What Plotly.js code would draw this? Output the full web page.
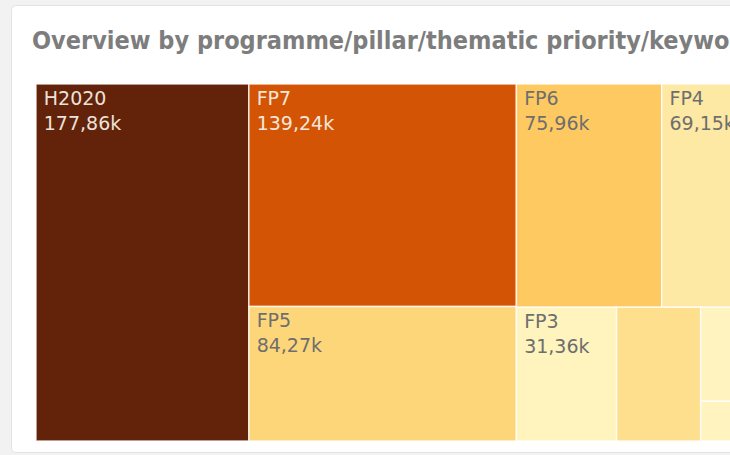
<!DOCTYPE html>
<html>
<head>
<meta charset="utf-8">
<script src="https://cdn.plot.ly/plotly-3.0.1.min.js"></script>
<style>
  html, body { margin: 0; padding: 0; width: 730px; height: 455px; overflow: hidden; background: #f2f2f2; }
  #card { position: absolute; left: 11px; top: 5px; width: 860px; height: 448px; background: #ffffff;
          border: 1px solid #e2e2e2; border-radius: 5px; box-sizing: border-box; }
  #chart { position: absolute; left: 0; top: 0; width: 830px; height: 455px; }
</style>
</head>
<body>
<div id="card"></div>
<div id="chart"></div>
<script>
// Data (values in thousands)
const programmes = ["H2020", "FP7", "FP5", "FP6", "FP4", "FP3", "HORIZON", "FP2", "FP1"];
const counts     = [177.86, 139.24, 84.27, 75.96, 69.15, 31.36, 26.3, 20.5, 8.7];
const shownLabel = [true, true, true, true, true, true, false, false, false];
const tileColors = ["#62230a", "#d35405", "#fdd67a", "#fdc960", "#fde8a4", "#fff4bd", "#fddf8e", "#fff3bf", "#fff3bf"];
const labelColors = ["#ece2d9", "#f4e7db", "#6e6e6e", "#6e6e6e", "#6e6e6e", "#6e6e6e", "#6e6e6e", "#6e6e6e", "#6e6e6e"];
const chartTitle = "Overview by programme/pillar/thematic priority/keyword";

const W = 830, H = 455;
const indent = '<span style="font-size:15px">\u00A0</span>';
const templates = shownLabel.map(s => s ? indent + "%{label}<br>" + indent + "%{value:.2f}k" : " ");

const trace = {
  type: "treemap",
  labels: programmes,
  parents: programmes.map(() => ""),
  values: counts,
  sort: true,
  tiling: { packing: "squarify", squarifyratio: 1, pad: 0 },
  marker: { colors: tileColors, line: { color: "rgba(255,255,255,0.75)", width: 1.5 }, pad: { t: 0, l: 0, r: 0, b: 0 } },
  pathbar: { visible: false },
  texttemplate: templates,
  textposition: "top left",
  textfont: { family: "DejaVu Sans, sans-serif", size: 19, color: labelColors },
  hoverinfo: "label+value"
};

const layout = {
  width: W, height: H,
  margin: { l: 36, r: 35.6, t: 84, b: 14, pad: 0 },
  paper_bgcolor: "rgba(0,0,0,0)",
  plot_bgcolor: "rgba(0,0,0,0)",
  separators: ", ",
  showlegend: false,
  title: {
    text: "<b>" + chartTitle + "</b>",
    font: { family: "Liberation Sans Narrow, DejaVu Sans Condensed, sans-serif", size: 25, color: "#7d7d7d" },
    xref: "container", yref: "container",
    x: 32 / W, xanchor: "left",
    y: 1 - 40 / H, yanchor: "middle"
  }
};

Plotly.newPlot("chart", [trace], layout, { displayModeBar: false, staticPlot: true });
</script>
</body>
</html>
